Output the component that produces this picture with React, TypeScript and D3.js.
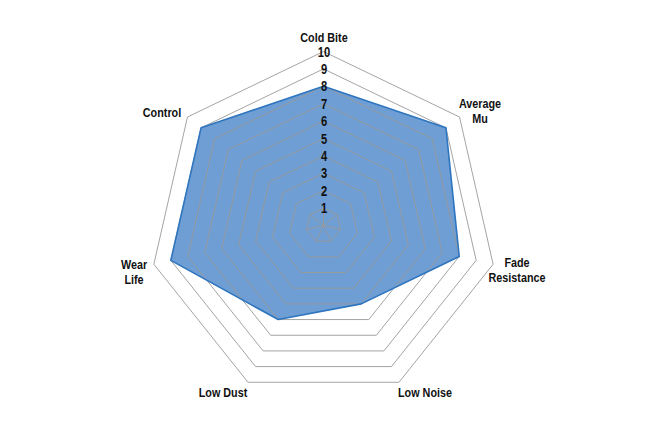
import React from "react";
import * as d3 from "d3";

const axes: string[][] = [
  ["Cold Bite"],
  ["Average", "Mu"],
  ["Fade", "Resistance"],
  ["Low Noise"],
  ["Low Dust"],
  ["Wear", "Life"],
  ["Control"],
];
const values: number[] = [8, 9, 8, 5, 6, 9, 9];
const levels: number[] = [1, 2, 3, 4, 5, 6, 7, 8, 9, 10];

const W = 645;
const H = 430;
const cx = 323.5;
const cy = 225.5;
const R = 174;

const labelPos: { x: number; y: number }[] = [
  { x: 324, y: 41.5 },
  { x: 480, y: 108 },
  { x: 517, y: 267 },
  { x: 425, y: 397 },
  { x: 223, y: 397 },
  { x: 134, y: 268.5 },
  { x: 162, y: 117 },
];

const font = "'Liberation Sans', Arial, sans-serif";
const SX = 0.8;

function Label({ x, y, lines, size }: { x: number; y: number; lines: string[]; size: number }) {
  return (
    <text
      transform={`translate(${x},${y}) scale(${SX},1)`}
      textAnchor="middle"
      fontFamily={font}
      fontWeight="bold"
      fontSize={size}
      fill="#111"
    >
      {lines.map((l, j) => (
        <tspan key={j} x={0} y={j * 15.5}>
          {l}
        </tspan>
      ))}
    </text>
  );
}

export default function App() {
  const n = axes.length;
  const angle = d3.scaleLinear().domain([0, n]).range([0, 2 * Math.PI]);
  const r = d3.scaleLinear().domain([0, 10]).range([0, R]);
  const pt = (i: number, v: number): [number, number] => {
    const a = angle(i);
    return [cx + r(v) * Math.sin(a), cy - r(v) * Math.cos(a)];
  };
  const line = d3.line<[number, number]>().curve(d3.curveLinearClosed);
  return (
    <svg width={W} height={H} style={{ position: "absolute", left: 0, top: 0, background: "#fff" }}>
      <path
        d={line(values.map((v, i) => pt(i, v))) || ""}
        fill="#4a86c8"
        fillOpacity={0.8}
        stroke="none"
      />
      {levels.map((lv) => (
        <path
          key={lv}
          d={line(d3.range(n).map((i) => pt(i, lv))) || ""}
          fill="none"
          stroke="#9a9a9a"
          strokeWidth={0.9}
        />
      ))}
      {d3.range(n).map((i) => {
        const [x, y] = pt(i, 1);
        return <line key={i} x1={cx} y1={cy} x2={x} y2={y} stroke="#9a9a9a" strokeWidth={0.9} />;
      })}
      <path
        d={line(values.map((v, i) => pt(i, v))) || ""}
        fill="none"
        stroke="#2e75c0"
        strokeWidth={1.6}
        strokeLinejoin="round"
      />
      {levels.map((lv) => {
        const [x, y] = pt(0, lv);
        return <Label key={lv} x={x + 0.5} y={y + 5} lines={[String(lv)]} size={14} />;
      })}
      {axes.map((lines, i) => (
        <Label key={i} x={labelPos[i].x} y={labelPos[i].y} lines={lines} size={13.5} />
      ))}
    </svg>
  );
}
